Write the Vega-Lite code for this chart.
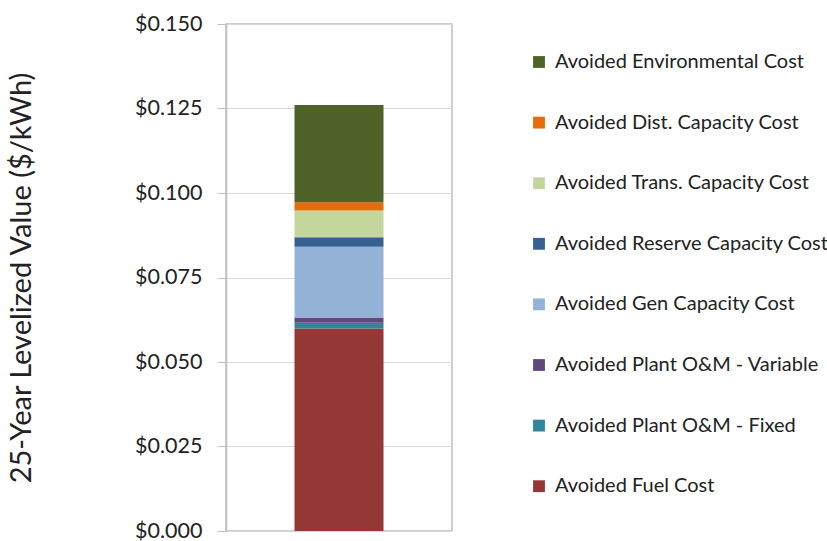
{
  "$schema": "https://vega.github.io/schema/vega-lite/v6.json",
  "autosize": {"type": "none"},
  "padding": {"left": 226, "top": 24, "right": 375, "bottom": 10},
  "width": 226,
  "height": 507,
  "background": "white",
  "config": {
    "font": "Lato",
    "view": {"stroke": "#bfbfbf", "strokeWidth": 1.5}
  },
  "data": {
    "values": [
      {"cat": "All", "component": "Avoided Fuel Cost", "value": 0.0599, "k": 1},
      {"cat": "All", "component": "Avoided Plant O&M - Fixed", "value": 0.0017, "k": 2},
      {"cat": "All", "component": "Avoided Plant O&M - Variable", "value": 0.0016, "k": 3},
      {"cat": "All", "component": "Avoided Gen Capacity Cost", "value": 0.0209, "k": 4},
      {"cat": "All", "component": "Avoided Reserve Capacity Cost", "value": 0.0028, "k": 5},
      {"cat": "All", "component": "Avoided Trans. Capacity Cost", "value": 0.0079, "k": 6},
      {"cat": "All", "component": "Avoided Dist. Capacity Cost", "value": 0.0025, "k": 7},
      {"cat": "All", "component": "Avoided Environmental Cost", "value": 0.0287, "k": 8}
    ]
  },
  "mark": {"type": "bar", "size": 89},
  "encoding": {
    "x": {"field": "cat", "type": "nominal", "axis": null},
    "y": {
      "field": "value",
      "type": "quantitative",
      "stack": "zero",
      "scale": {"domain": [0, 0.15], "nice": false},
      "axis": {
        "values": [0, 0.025, 0.05, 0.075, 0.1, 0.125, 0.15],
        "format": "$.3f",
        "title": "25-Year Levelized Value ($/kWh)",
        "titleFontSize": 29,
        "titleFontWeight": "normal",
        "titleColor": "#222222",
        "titlePadding": 98,
        "labelFontSize": 21.5,
        "labelColor": "#222222",
        "labelPadding": 15,
        "tickSize": 9,
        "tickColor": "#bfbfbf",
        "domainColor": "#bfbfbf",
        "domainWidth": 1.5,
        "gridColor": "#d9d9d9",
        "grid": true
      }
    },
    "order": {"field": "k", "type": "quantitative", "sort": "ascending"},
    "color": {
      "field": "component",
      "type": "nominal",
      "scale": {
        "domain": [
          "Avoided Environmental Cost",
          "Avoided Dist. Capacity Cost",
          "Avoided Trans. Capacity Cost",
          "Avoided Reserve Capacity Cost",
          "Avoided Gen Capacity Cost",
          "Avoided Plant O&M - Variable",
          "Avoided Plant O&M - Fixed",
          "Avoided Fuel Cost"
        ],
        "range": ["#4f6228", "#e46c0a", "#c3d69b", "#376092", "#95b3d7", "#604a7b", "#31859c", "#953735"]
      },
      "legend": {
        "orient": "none",
        "legendX": 303,
        "legendY": 28,
        "title": null,
        "symbolType": "square",
        "symbolSize": 140,
        "symbolStrokeWidth": 0,
        "labelFontSize": 20,
        "labelColor": "#222222",
        "labelOffset": 6,
        "rowPadding": 40.6,
        "labelLimit": 400
      }
    }
  }
}
